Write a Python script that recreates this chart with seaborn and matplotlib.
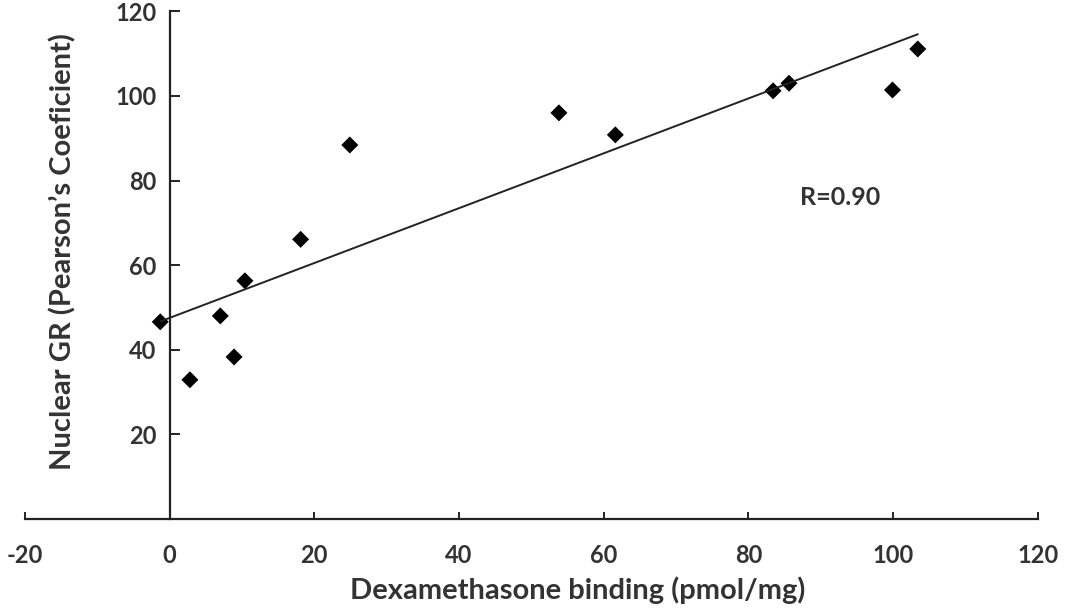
import numpy as np
import pandas as pd
from matplotlib import pyplot as plt
import seaborn as sns

# values
dex_binding = [-1.3, 2.8, 7.0, 8.9, 10.4, 18.1, 24.9, 53.8, 61.6, 83.4, 85.6, 99.9, 103.4]
nuclear_gr = [46.6, 32.9, 48.0, 38.3, 56.3, 66.1, 88.4, 96.0, 90.8, 101.2, 103.0, 101.4, 111.1]
x_ticks = [-20, 0, 20, 40, 60, 80, 100, 120]
y_ticks = [20, 40, 60, 80, 100, 120]
r_label = "R=0.90"

df = pd.DataFrame({"dex": dex_binding, "gr": nuclear_gr})

sns.set_style("white")
plt.rcParams['font.family'] = ['Lato', 'DejaVu Sans']
plt.rcParams['axes.unicode_minus'] = False
ink = "#222222"
txt = "#333333"

fig = plt.figure(figsize=(10.71, 6.11), dpi=100)
ax = fig.add_axes([0.0233, 0.1506, 0.9458, 0.8309])

sns.regplot(x="dex", y="gr", data=df, ax=ax, marker="D", ci=None,
            scatter_kws={"s": 75, "color": "black", "edgecolors": "none", "alpha": 1},
            line_kws={"color": ink, "lw": 1.4})

ax.set_xlim(-20, 120)
ax.set_ylim(0, 120)
ax.set_xticks(x_ticks)
ax.set_yticks(y_ticks)

for s in ["top", "right"]:
    ax.spines[s].set_visible(False)
ax.spines["left"].set_position(("data", 0))
ax.spines["bottom"].set_position(("data", 0))
for s in ["left", "bottom"]:
    ax.spines[s].set_color(ink)
    ax.spines[s].set_linewidth(1.6)

ax.tick_params(axis="both", direction="in", width=1.4, color=ink,
               labelsize=17, labelcolor=txt, bottom=True, left=True)
ax.tick_params(axis="x", length=5, pad=18)
ax.tick_params(axis="y", length=7, pad=9.5)
for lab in ax.get_xticklabels() + ax.get_yticklabels():
    lab.set_fontweight("bold")

ax.set_xlabel("Dexamethasone binding (pmol/mg)", fontsize=21, fontweight="bold", color=txt)
ax.set_ylabel("Nuclear GR (Pearson\u2019s Coeficient)", fontsize=21, fontweight="bold", color=txt)
ax.xaxis.set_label_coords(0.546, -0.114)
ax.yaxis.set_label_coords(0.051, 0.526)

ax.text(87.1, 75.9, r_label, va="center", ha="left", fontsize=18, fontweight="bold", color=txt)

fig.savefig("out.png", dpi=100)
